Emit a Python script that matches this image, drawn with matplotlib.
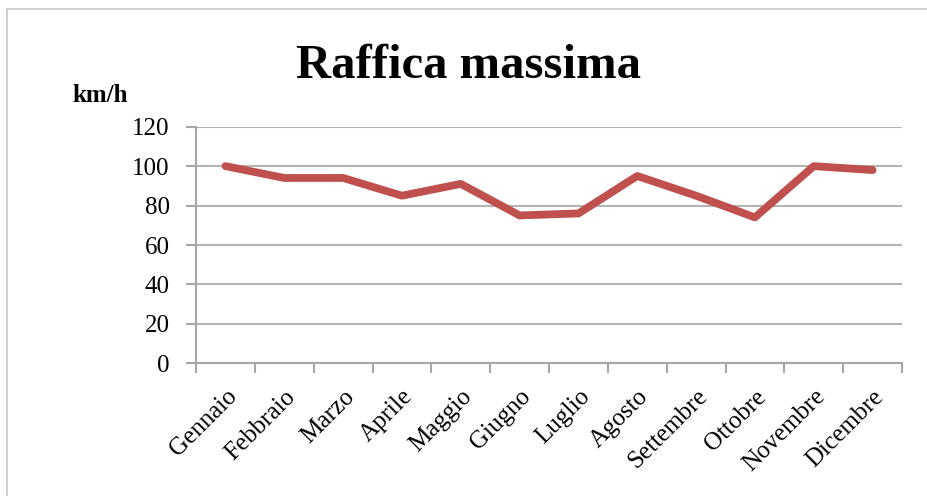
import matplotlib
matplotlib.use('Agg')
from matplotlib import pyplot as plt
from matplotlib.patches import Rectangle

# data
months = ['Gennaio', 'Febbraio', 'Marzo', 'Aprile', 'Maggio', 'Giugno',
          'Luglio', 'Agosto', 'Settembre', 'Ottobre', 'Novembre', 'Dicembre']
gust = [100, 94, 94, 85, 91, 75, 76, 95, 85, 74, 100, 98]
yticks = [0, 20, 40, 60, 80, 100, 120]

plt.rcParams['font.family'] = ['Liberation Serif', 'DejaVu Serif']

fig = plt.figure(figsize=(9.27, 4.96), dpi=100)
# outer chart frame (right and bottom edges run off the image)
fig.patches.append(Rectangle((7 / 927, -0.1), 1.1, 1 - 9 / 496 + 0.1,
                             transform=fig.transFigure, fill=False,
                             edgecolor='#c8c8c8', linewidth=1.2))

ax = fig.add_axes([196 / 927, 1 - 363.3 / 496, (902 - 196) / 927, (363.3 - 126.7) / 496])
x = list(range(len(months)))
ax.plot(x, gust, color='#C0504D', linewidth=5.6, solid_capstyle='round',
        solid_joinstyle='round', zorder=3)

ax.set_xlim(-0.5, len(months) - 0.5)
ax.set_ylim(0, 120)
ax.set_yticks(yticks)
ax.set_yticklabels([str(v) for v in yticks], fontsize=18)
ax.yaxis.grid(True, color='#b4b4b4', linewidth=1.5)
ax.set_axisbelow(True)

# category ticks sit on the boundaries, labels at the centres
ax.set_xticks([i - 0.5 for i in range(len(months) + 1)])
ax.set_xticklabels([])
ax.set_xticks(x, minor=True)
ax.set_xticklabels(months, minor=True, rotation=45, ha='right',
                   rotation_mode='anchor', fontsize=18)
ax.tick_params(axis='x', which='minor', length=0, pad=16)
ax.tick_params(axis='x', which='major', length=7, width=1.5, color='#a6a6a6')
ax.tick_params(axis='y', length=7, width=1.5, color='#a6a6a6', pad=12)

for s in ['top', 'right']:
    ax.spines[s].set_visible(False)
for s in ['left', 'bottom']:
    ax.spines[s].set_color('#a6a6a6')
    ax.spines[s].set_linewidth(1.5)

fig.text(469 / 927, 1 - 66 / 496, 'Raffica massima', ha='center', va='center',
         fontsize=35, fontweight='bold')
fig.text(100 / 927, 1 - 96 / 496, 'km/h', ha='center', va='center',
         fontsize=18, fontweight='bold')

fig.savefig('out.png', dpi=100)
